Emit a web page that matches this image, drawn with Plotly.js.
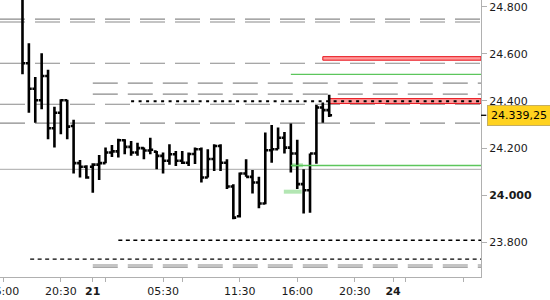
<!DOCTYPE html>
<html><head><meta charset="utf-8">
<script src="https://cdn.plot.ly/plotly-3.0.1.min.js"></script>
<style>html,body{margin:0;padding:0;background:#fff}#c{width:550px;height:300px}</style>
</head><body><div id="c"></div>
<script>
// bar index (30-minute bars)
const barIdx = [3,4,5,6,7,8,9,10,11,12,13,14,15,16,17,18,19,20,21,22,23,24,25,26,27,28,29,30,31,32,33,34,35,36,37,38,39,40,41,42,43,44,45,46,47,48,49,50,51];
const opens  = [24900,24560,24452,24403,24506,24284,24350,24403,24294,24136,24121,24121,24130,24136,24181,24186,24233,24205,24181,24200,24190,24185,24167,24146,24174,24146,24138,24175,24195,24075,24154,24209,24138,24037,23911,24092,24078,24054,23965,24191,24195,24244,24202,24177,24047,24021,24177,24372,24361];
const highs  = [24950,24645,24502,24602,24532,24375,24407,24405,24320,24149,24127,24136,24171,24202,24213,24240,24238,24230,24223,24202,24244,24188,24181,24216,24188,24188,24181,24202,24202,24195,24216,24216,24153,24047,24096,24153,24107,24078,24266,24298,24287,24268,24304,24235,24110,24177,24383,24393,24426];
const lows   = [24513,24350,24308,24365,24238,24202,24259,24238,24092,24075,24070,24011,24065,24136,24162,24160,24174,24167,24167,24153,24174,24110,24092,24129,24124,24132,24124,24132,24054,24075,24103,24103,24026,23898,23905,24078,24007,23945,23962,24138,24195,24177,24096,24026,23922,23926,24134,24308,24332];
const closes = [24560,24452,24403,24506,24284,24350,24403,24291,24136,24121,24075,24130,24136,24181,24186,24233,24205,24181,24200,24190,24193,24167,24146,24174,24146,24138,24175,24195,24075,24154,24209,24138,24037,23905,24092,24078,24054,23965,24191,24195,24244,24202,24177,24047,24021,24177,24372,24361,24339.25];

// x tick positions (bar index) and labels
const xTickIdx  = [0, 9, 14, 16, 25, 28, 37, 46, 55, 61, 63, 72];
const xTickText = ['16:00','20:30','<b>21</b>','','05:30','','11:30','16:00','20:30','<b>24</b>','',''];
// y ticks
const yTickVals = [23800, 24000, 24200, 24400, 24600, 24800];
const yTickText = ['23.800','<b>24.000</b>','24.200','24.400','24.600','24.800'];

// horizontal levels
const grayFullLevels   = [24747, 24735, 24560, 24386, 24306];
const grayLateLevels   = [24476, 24429, 23704, 23695];
const grayLateStart    = 14;
const solidGrayLevel   = 24110;
const dottedLevel      = 24399;
const dottedStart      = 20;
const blackDashLevels  = [23809, 23729];
const blackDashStarts  = [18, 4.2];
const greenLevels      = [24513, 24126];
const greenStart       = 45;
const lightGreenLevels = [24015, 24127];
const lightGreenFrom   = [43.9, 45];
const lightGreenTo     = [46.7, 46.9];
const redZoneLow       = [24573, 24389];
const redZoneHigh      = [24588, 24410];
const redZoneStart     = [50, 51];
const lastPrice        = 24339.25;
const lastPriceText    = '24.339,25';

const xr = [-0.52, 74.76];
const yr = [23653, 24828.4];

const shapes = [];
grayFullLevels.forEach(v => shapes.push({type:'line', xref:'x', yref:'y', x0:xr[0], x1:xr[1], y0:v, y1:v, layer:'below', line:{color:'#8a8a8a', width:1.2, dash:'25px,10px'}}));
grayLateLevels.forEach(v => shapes.push({type:'line', xref:'x', yref:'y', x0:grayLateStart, x1:xr[1], y0:v, y1:v, layer:'below', line:{color:'#8a8a8a', width:1.2, dash:'25px,10px'}}));
shapes.push({type:'line', xref:'x', yref:'y', x0:xr[0], x1:xr[1], y0:solidGrayLevel, y1:solidGrayLevel, layer:'below', line:{color:'#a8a8a8', width:1}});
redZoneLow.forEach((v,i) => shapes.push({type:'rect', xref:'x', yref:'y', x0:redZoneStart[i], x1:xr[1], y0:v, y1:redZoneHigh[i], layer:'below', fillcolor:'#ff9a9a', line:{color:'#e8141c', width:1}}));
shapes.push({type:'line', xref:'x', yref:'y', x0:dottedStart, x1:xr[1], y0:dottedLevel, y1:dottedLevel, line:{color:'#000', width:2, dash:'3px,4.5px'}});
blackDashLevels.forEach((v,i) => shapes.push({type:'line', xref:'x', yref:'y', x0:blackDashStarts[i], x1:xr[1], y0:v, y1:v, line:{color:'#000', width:1.3, dash:'4px,3.5px'}}));
lightGreenLevels.forEach((v,i) => shapes.push({type:'line', xref:'x', yref:'y', x0:lightGreenFrom[i], x1:lightGreenTo[i], y0:v, y1:v, layer:'below', line:{color:'#b3e6b3', width:4}}));
greenLevels.forEach(v => shapes.push({type:'line', xref:'x', yref:'y', x0:greenStart, x1:xr[1], y0:v, y1:v, line:{color:'#5cc65c', width:1.4}}));
shapes.push({type:'line', xref:'paper', yref:'y', x0:1.0, x1:1.011, y0:lastPrice, y1:lastPrice, line:{color:'#000', width:1.3}});

const trace = {
  type:'ohlc', x:barIdx, open:opens, high:highs, low:lows, close:closes,
  increasing:{line:{color:'#000', width:2.6}},
  decreasing:{line:{color:'#000', width:2.6}},
  tickwidth:0.45, hoverinfo:'skip', showlegend:false
};

const font = {family:'DejaVu Sans', size:11, color:'#1a1a1a'};
const layout = {
  width:550, height:300,
  margin:{l:0, r:69, t:0, b:23, pad:0},
  paper_bgcolor:'#fff', plot_bgcolor:'#fff',
  font:font,
  showlegend:false,
  xaxis:{range:xr, rangeslider:{visible:false}, showgrid:false, zeroline:false,
    showline:true, linecolor:'#b0b0b0', linewidth:1, mirror:false,
    ticks:'outside', ticklen:4, tickcolor:'#b0b0b0', tickwidth:1,
    tickmode:'array', tickvals:xTickIdx, ticktext:xTickText, ticklabeloverflow:'allow',
    tickfont:font, fixedrange:true},
  yaxis:{range:yr, side:'right', showgrid:false, zeroline:false,
    showline:true, linecolor:'#b0b0b0', linewidth:1,
    ticks:'outside', ticklen:5, tickcolor:'#b0b0b0', tickwidth:1,
    tickmode:'array', tickvals:yTickVals, ticktext:yTickText, ticklabeloverflow:'allow',
    tickfont:font, fixedrange:true},
  shapes:shapes,
  annotations:[{xref:'paper', yref:'y', x:1.0131, y:lastPrice, xanchor:'left', yanchor:'middle',
    text:lastPriceText, showarrow:false, font:{family:'DejaVu Sans', size:11, color:'#000'},
    bgcolor:'#ffd21f', bordercolor:'#c4ae62', borderwidth:1, borderpad:3}]
};
Plotly.newPlot('c', [trace], layout, {staticPlot:true, displayModeBar:false});
</script>
</body></html>
